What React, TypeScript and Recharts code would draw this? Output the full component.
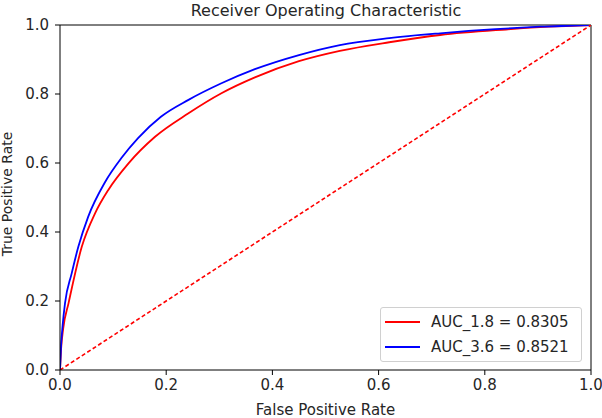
import React from 'react';
import { LineChart, Line, XAxis, YAxis, ReferenceLine, Label } from 'recharts';

// ROC curve for the 1.8 model
const fprLow = [0, 0.002, 0.006, 0.016, 0.041, 0.066, 0.091, 0.129, 0.179, 0.242, 0.304, 0.367, 0.45, 0.527, 0.62, 0.716, 0.84, 0.92, 1.0];
const tprLow = [0, 0.06, 0.12, 0.193, 0.357, 0.454, 0.522, 0.599, 0.676, 0.744, 0.802, 0.848, 0.895, 0.925, 0.95, 0.971, 0.987, 0.995, 1.0];

// ROC curve for the 3.6 model
const fprHigh = [0, 0.002, 0.005, 0.0094, 0.022, 0.0345, 0.053, 0.085, 0.116, 0.147, 0.19, 0.242, 0.304, 0.367, 0.45, 0.527, 0.62, 0.716, 0.82, 0.904, 1.0];
const tprHigh = [0, 0.07, 0.13, 0.193, 0.28, 0.357, 0.444, 0.545, 0.615, 0.672, 0.734, 0.783, 0.831, 0.872, 0.913, 0.942, 0.962, 0.976, 0.988, 0.995, 1.0];

const chanceLine = [0, 1];
const ticks = [0, 0.2, 0.4, 0.6, 0.8, 1.0];

const seriesNames = ['AUC_1.8 = 0.8305', 'AUC_3.6 = 0.8521'];
const seriesColors = ['#ff0000', '#0000ff'];

const lowData = fprLow.map((x, i) => ({ fpr: x, tpr: tprLow[i] }));
const highData = fprHigh.map((x, i) => ({ fpr: x, tpr: tprHigh[i] }));
const chanceData = chanceLine.map((x) => ({ fpr: x, tpr: x }));

const font = '"DejaVu Sans", sans-serif';
const textColor = '#262626';

const LegendBox = () => (
  <div
    style={{
      position: 'absolute',
      left: 380,
      top: 307,
      width: 202,
      height: 55,
      border: '1px solid #d0d0d0',
      borderRadius: 3,
      background: 'rgba(255,255,255,0.8)',
      fontFamily: font,
      fontSize: 15,
      color: textColor,
      boxSizing: 'border-box',
      paddingTop: 1,
    }}
  >
    {seriesNames.map((name, i) => (
      <div key={name} style={{ display: 'flex', alignItems: 'center', height: 25 }}>
        <div style={{ width: 35, height: 2, background: seriesColors[i], marginLeft: 4, marginRight: 11 }} />
        <span>{name}</span>
      </div>
    ))}
  </div>
);

const App: React.FC = () => {
  return (
    <div style={{ position: 'absolute', left: 0, top: 0, width: 602, height: 418, background: '#fff' }}>
      <div
        style={{
          position: 'absolute',
          left: 0,
          width: 652,
          top: 1,
          textAlign: 'center',
          fontFamily: font,
          fontSize: 16,
          color: textColor,
          lineHeight: '20px',
        }}
      >
        Receiver Operating Characteristic
      </div>
      <LineChart width={602} height={418} margin={{ top: 25, right: 11, bottom: 0, left: 0 }}>
        <XAxis
          dataKey="fpr"
          type="number"
          domain={[0, 1]}
          ticks={ticks}
          tickFormatter={(v: number) => v.toFixed(1)}
          allowDataOverflow
          height={48}
          stroke="#000"
          tickSize={5}
          tickMargin={4}
          tick={{ fontSize: 15, fill: textColor, fontFamily: font }}
        >
          <Label value="False Positive Rate" position="insideBottom" offset={3} style={{ fontSize: 15, fill: textColor, fontFamily: font }} />
        </XAxis>
        <YAxis
          dataKey="tpr"
          type="number"
          domain={[0, 1]}
          ticks={ticks}
          tickFormatter={(v: number) => v.toFixed(1)}
          allowDataOverflow
          width={60}
          stroke="#000"
          tickSize={5}
          tickMargin={6}
          tick={{ fontSize: 15, fill: textColor, fontFamily: font }}
        >
          <Label
            content={() => (
              <text
                x={7}
                y={194}
                transform="rotate(-90 7 194)"
                textAnchor="middle"
                dominantBaseline="central"
                style={{ fontSize: 14, fill: textColor, fontFamily: font }}
              >
                True Positive Rate
              </text>
            )}
          />
        </YAxis>
        <ReferenceLine y={1} stroke="#000" />
        <ReferenceLine x={1} stroke="#000" />
        <Line data={lowData} dataKey="tpr" type="monotone" stroke={seriesColors[0]} strokeWidth={1.8} dot={false} isAnimationActive={false} />
        <Line data={highData} dataKey="tpr" type="monotone" stroke={seriesColors[1]} strokeWidth={1.8} dot={false} isAnimationActive={false} />
        <Line data={chanceData} dataKey="tpr" type="linear" stroke="#ff0000" strokeWidth={1.6} strokeDasharray="4 2.5" dot={false} isAnimationActive={false} />
      </LineChart>
      <LegendBox />
    </div>
  );
};

export default App;
